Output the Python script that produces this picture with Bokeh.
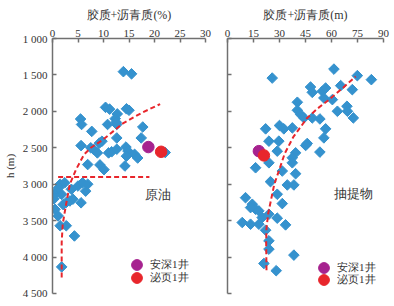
import numpy as np
from bokeh.plotting import figure
from bokeh.layouts import row
from bokeh.models import Range1d, FixedTicker, Legend, LegendItem, Label
from bokeh.embed import file_html
from bokeh.resources import INLINE

# ---------------- data ----------------
depth_ticks = [1000, 1500, 2000, 2500, 3000, 3500, 4000, 4500]
depth_tick_labels = ["1 000", "1 500", "2 000", "2 500", "3 000", "3 500", "4 000", "4 500"]
oil_x_ticks = [0, 5, 10, 15, 20, 25, 30]
ext_x_ticks = [0, 15, 30, 45, 60, 75, 90]

# crude oil (left panel): resin + asphaltene (%) vs depth (m)
oil_pct = [13.9, 15.5, 10.4, 11.2, 14.5, 15.0, 12.7, 12.3, 5.5, 5.7, 10.8, 12.6, 12.5, 17.7,
           7.7, 12.6, 17.4, 9.7, 9.2, 5.6, 7.5, 8.1, 8.8, 11.0, 11.6, 12.6, 14.4, 14.8,
           14.5, 16.1, 16.7, 22.1, 6.9, 9.3, 10.1, 14.2,
           1.5, 2.4, 0.8, 0.2, 1.8, 3.7, 5.0, 5.9, 6.9, 6.5, 5.6, 4.0, 2.7, 0.5, 1.1,
           1.5, 2.7, 4.3, 1.8, 0.3, 3.4, 2.1, 1.2]
oil_h = [1455, 1485, 1945, 1970, 1965, 1985, 2035, 2100, 2105, 2180, 2180, 2180, 2150, 2215,
         2275, 2365, 2365, 2410, 2435, 2470, 2500, 2525, 2570, 2570, 2555, 2520, 2490, 2545,
         2615, 2590, 2640, 2565, 2730, 2735, 2800, 2750,
         3000, 2980, 3095, 3160, 3140, 3070, 3025, 2980, 3000, 3095, 3255, 3205, 3250, 3345, 3435,
         3570, 3570, 3710, 4135, 3200, 3230, 3280, 3050]

# extract (right panel)
ext_val = [25.8, 61.4, 74.9, 83.0, 47.9, 48.9, 54.7, 56.6, 65.3, 72.0, 55.6, 60.5, 40.3, 40.3,
           42.2, 44.1, 48.9, 53.3, 63.4, 68.9, 69.2, 72.6, 22.0, 30.0, 32.5, 37.4, 56.6, 55.6,
           23.9, 29.6, 46.0, 45.1, 28.7, 39.3, 37.4, 53.3, 23.9, 16.2, 37.4, 39.3, 31.6, 24.8,
           34.5, 38.3, 28.7, 31.6, 10.4, 14.3, 16.2, 18.1, 23.9, 28.7, 33.5, 8.5, 13.3, 18.1,
           22.0, 23.9, 23.9, 38.3, 21.0, 28.1, 20.0, 13.3]
ext_h = [1543, 1420, 1510, 1565, 1666, 1739, 1725, 1680, 1647, 1702, 1816, 1839, 1875, 1985,
         2044, 2090, 2090, 2104, 1999, 1930, 1999, 2090, 2240, 2194, 2240, 2227, 2240, 2364,
         2409, 2409, 2441, 2468, 2546, 2569, 2637, 2559, 2706, 2774, 2706, 2856, 2819, 2965,
         3010, 3010, 3138, 3266, 3185, 3275, 3343, 3366, 3412, 3466, 3558, 3526, 3549, 3549,
         3631, 3777, 3891, 3973, 4088, 4187, 3458, 3321]

# special wells
well_names = ["安深1井", "泌页1井"]
oil_well_x = [18.8, 21.3]
oil_well_h = [2490, 2555]
ext_well_x = [18.1, 21.0]
ext_well_h = [2546, 2605]

# trend lines
oil_trend_x = [1.8, 1.8, 2.0, 2.6, 3.4, 4.6, 6.2, 7.5, 9.7, 13.9, 17.5, 21.1]
oil_trend_h = [4280, 3800, 3550, 3300, 3000, 2800, 2590, 2500, 2400, 2160, 2020, 1900]
oil_cut_x = [1.1, 19.0]
oil_cut_h = [2900, 2900]
ext_trend_x = [22.5, 22.3, 22.5, 23.5, 24.8, 27.0, 29.6, 33.0, 38.0, 46.0, 52.0, 58.0, 66.0, 74.0]
ext_trend_h = [4180, 3800, 3600, 3400, 3250, 3000, 2820, 2580, 2350, 2090, 1960, 1850, 1690, 1520]

# ---------------- style ----------------
SERIF = "Liberation Serif"
AXIS_C = "#707070"
TXT_C = "#333333"
BLUE = "#3592CE"
PURPLE = "#A6228F"
RED = "#E8262C"
well_colors = [PURPLE, RED]


def make_fig(width, xr, xticks, title, left_border, right_border, show_ylabels):
    p = figure(width=width, height=298, x_range=Range1d(*xr), y_range=Range1d(4500, 1000),
               x_axis_location="above", output_backend="svg", toolbar_location=None,
               min_border_left=left_border, min_border_right=right_border,
               min_border_top=38, min_border_bottom=5)
    p.outline_line_color = None
    p.xgrid.visible = False
    p.ygrid.visible = False
    p.background_fill_color = "white"
    for ax in (p.xaxis[0], p.yaxis[0]):
        ax.axis_line_color = AXIS_C
        ax.axis_line_width = 1.5
        ax.major_tick_line_color = AXIS_C
        ax.major_tick_line_width = 1.5
        ax.major_tick_in = 4
        ax.major_tick_out = 0
        ax.minor_tick_line_color = None
        ax.major_label_text_font = SERIF
        ax.major_label_text_font_size = "11px"
        ax.major_label_text_color = TXT_C
        ax.axis_label_text_font = SERIF
        ax.axis_label_text_font_style = "normal"
        ax.axis_label_text_color = TXT_C
    p.xaxis.ticker = FixedTicker(ticks=xticks)
    p.xaxis.major_label_standoff = 2
    p.xaxis.axis_label = title
    p.xaxis.axis_label_text_font_size = "12px"
    p.xaxis.axis_label_standoff = 5
    p.yaxis.ticker = FixedTicker(ticks=depth_ticks)
    if show_ylabels:
        p.yaxis.major_label_overrides = {t: s for t, s in zip(depth_ticks, depth_tick_labels)}
        p.yaxis.major_label_standoff = 5
        p.yaxis.axis_label = "h (m)"
        p.yaxis.axis_label_text_font_size = "11px"
        p.yaxis.axis_label_standoff = 4
    else:
        p.yaxis.major_label_overrides = {t: "" for t in depth_ticks}
        p.yaxis.major_label_standoff = 0
    return p


def add_legends(p, rends, locs):
    # one single-item legend per well so the legend circle can be as large as in the original
    for n, r, loc in zip(well_names, rends, locs):
        lg = Legend(items=[LegendItem(label=n, renderers=[r])], location=loc,
                    background_fill_alpha=0, border_line_alpha=0,
                    padding=0, margin=0, spacing=0, glyph_width=27, glyph_height=27,
                    label_standoff=-7, label_text_font=SERIF, label_text_font_size="11px",
                    label_text_color=TXT_C, label_height=13)
        p.add_layout(lg)


# left panel (frame 49..205)
p1 = make_fig(213, (0, 30), oil_x_ticks, "胶质+沥青质(%)", 49, 8, True)
p1.scatter(oil_pct, oil_h, marker="square", size=7.5, angle=np.pi / 4, color=BLUE)
p1.line(oil_trend_x, oil_trend_h, line_color=RED, line_width=2, line_dash="5 3")
p1.line(oil_cut_x, oil_cut_h, line_color=RED, line_width=2, line_dash="5 3")
r1 = [p1.scatter([x], [h], marker="circle", size=11.5, color=c)
      for x, h, c in zip(oil_well_x, oil_well_h, well_colors)]
add_legends(p1, r1, [(71, 15), (71, 2)])
p1.add_layout(Label(x=20.6, y=3141, text="原油", text_align="center", text_baseline="middle",
                    text_font=SERIF, text_font_size="13px", text_color=TXT_C))

# right panel (frame 227..383)
p2 = make_fig(178, (0, 90), ext_x_ticks, "胶质+沥青质(m)", 14, 8, False)
p2.scatter(ext_val, ext_h, marker="square", size=7.5, angle=np.pi / 4, color=BLUE)
p2.line(ext_trend_x, ext_trend_h, line_color=RED, line_width=2, line_dash="5 3")
r2 = [p2.scatter([x], [h], marker="circle", size=11.5, color=c)
      for x, h, c in zip(ext_well_x, ext_well_h, well_colors)]
add_legends(p2, r2, [(83, 12), (83, 0)])
p2.add_layout(Label(x=72.7, y=3127, text="抽提物", text_align="center", text_baseline="middle",
                    text_font=SERIF, text_font_size="13px", text_color=TXT_C))

layout = row(p1, p2)
open("out.html", "w").write(file_html(layout, INLINE))
